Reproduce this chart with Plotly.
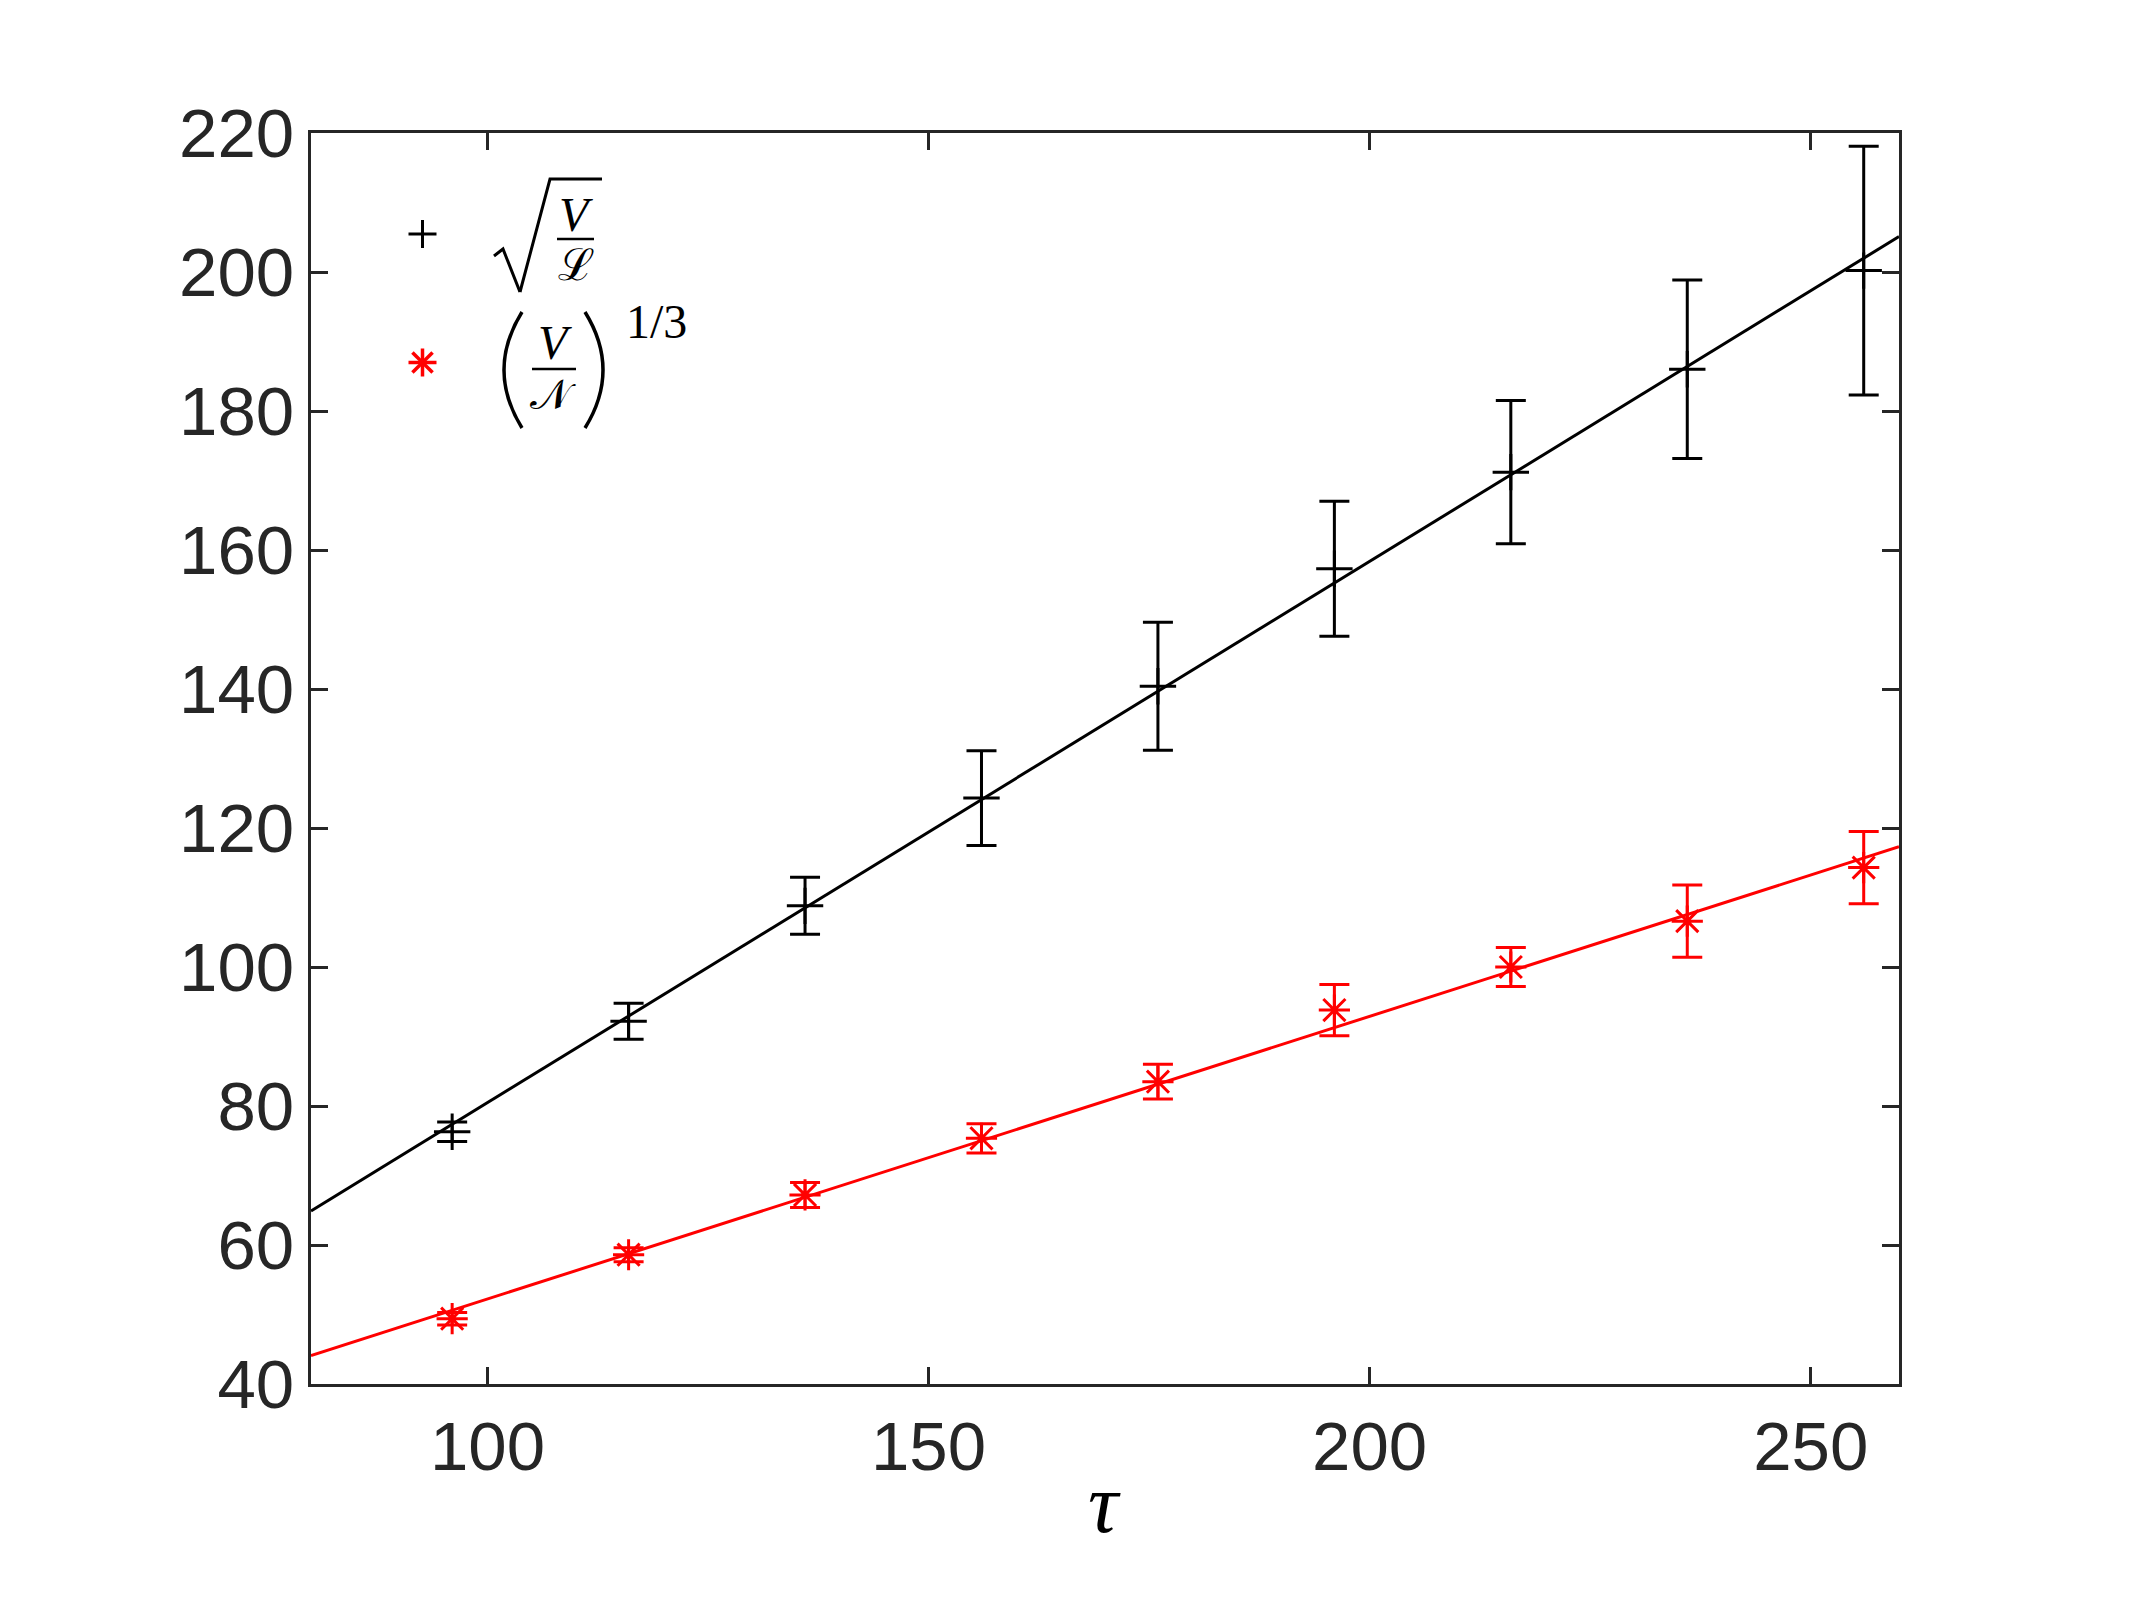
import plotly.graph_objects as go

# ---- data ----
tau = [96, 116, 136, 156, 176, 196, 216, 236, 256]
sqrt_VL = [76.3, 92.2, 108.8, 124.3, 140.4, 157.3, 171.2, 186.0, 200.2]
sqrt_VL_err = [1.4, 2.6, 4.1, 6.8, 9.2, 9.7, 10.3, 12.85, 17.9]
cbrt_VN = [49.4, 58.6, 67.2, 75.35, 83.5, 93.8, 100.0, 106.6, 114.3]
cbrt_VN_err = [0.9, 1.0, 1.8, 2.1, 2.5, 3.7, 2.8, 5.2, 5.2]
fit_x = [80, 260]
fit_black = [64.9, 205.1]
fit_red = [44.1, 117.3]

x_ticks = [100, 150, 200, 250]
y_ticks = [40, 60, 80, 100, 120, 140, 160, 180, 200, 220]

W, H = 2134, 1600
L, R, T, B = 311, 1899, 133, 1384
AX = "#262626"


def P(px, py):
    return (px - L) / (R - L), (B - py) / (B - T)


fig = go.Figure()
fig.add_trace(go.Scatter(x=fit_x, y=fit_black, mode="lines",
                         line=dict(color="black", width=3), showlegend=False))
fig.add_trace(go.Scatter(x=fit_x, y=fit_red, mode="lines",
                         line=dict(color="red", width=3), showlegend=False))
fig.add_trace(go.Scatter(
    x=tau, y=sqrt_VL, mode="markers", showlegend=False,
    marker=dict(symbol="cross-thin-open", size=26, color="black",
                line=dict(color="black", width=3)),
    error_y=dict(type="data", array=sqrt_VL_err, color="black",
                 thickness=3, width=15)))
fig.add_trace(go.Scatter(
    x=tau, y=cbrt_VN, mode="markers", showlegend=False,
    marker=dict(symbol="asterisk-open", size=26, color="red",
                line=dict(color="red", width=3)),
    error_y=dict(type="data", array=cbrt_VN_err, color="red",
                 thickness=3, width=15)))

axis_common = dict(showline=True, linecolor=AX, linewidth=3, mirror="ticks",
                   ticks="inside", ticklen=17, tickwidth=3, tickcolor=AX,
                   showgrid=False, zeroline=False,
                   tickfont=dict(family="Liberation Sans, Arial, sans-serif",
                                 size=69, color=AX))
fig.update_xaxes(range=[80, 260], tickvals=x_ticks, **axis_common)
fig.update_yaxes(range=[40, 220], tickvals=y_ticks, **axis_common)

# ---- legend (keys + math labels) ----
shapes = []
annotations = []
SER = "Liberation Serif, DejaVu Serif, serif"


def txt(px, py, s, size=46, family=SER, color="black"):
    x, y = P(px, py)
    annotations.append(dict(x=x, y=y, xref="paper", yref="paper", text=s,
                            showarrow=False, xanchor="center", yanchor="middle",
                            font=dict(family=family, size=size, color=color)))


def path(pts, width=3, color="black"):
    d = ""
    for i, (px, py) in enumerate(pts):
        x, y = P(px, py)
        d += ("M" if i == 0 else "L") + f"{x},{y} "
    shapes.append(dict(type="path", path=d, xref="paper", yref="paper",
                       line=dict(color=color, width=width)))


def curve(p0, c, p1, width=3.5):
    x0, y0 = P(*p0)
    xc, yc = P(*c)
    x1, y1 = P(*p1)
    shapes.append(dict(type="path", path=f"M{x0},{y0} Q{xc},{yc} {x1},{y1}",
                       xref="paper", yref="paper",
                       line=dict(color="black", width=width)))


# legend keys
kx, k1, k2, r = 422.5, 234, 362.5, 14
path([(kx - r, k1), (kx + r, k1)], width=3)
path([(kx, k1 - r), (kx, k1 + r)], width=3)
path([(kx - r, k2), (kx + r, k2)], width=3.5, color="red")
path([(kx, k2 - r), (kx, k2 + r)], width=3.5, color="red")
d = r * 0.72
path([(kx - d, k2 - d), (kx + d, k2 + d)], width=3.5, color="red")
path([(kx - d, k2 + d), (kx + d, k2 - d)], width=3.5, color="red")

# sqrt(V / L)
path([(494, 256), (503, 249), (520, 292)], width=3)
path([(520, 292), (550, 179), (602, 179)], width=3)
txt(576, 214, "<i>V</i>", size=48)
path([(557, 239), (594, 239)], width=2.5)
txt(576, 264, "ℒ", family="DejaVu Serif, serif", size=44)

# (V / N)^(1/3)
curve((522, 312), (486, 370), (522, 428))
curve((585, 312), (621, 370), (585, 428))
txt(555, 343, "<i>V</i>", size=48)
path([(532, 369), (576, 369)], width=2.5)
txt(553, 394, "𝒩", family="DejaVu Serif, serif", size=42)
txt(656, 321, "1/3", size=48)

# x-axis title
txt(1104, 1503, "<i>τ</i>", size=84, family="Liberation Serif, serif")

fig.update_layout(
    width=W, height=H,
    margin=dict(l=L, r=W - R, t=T, b=H - B),
    paper_bgcolor="white", plot_bgcolor="white",
    showlegend=False,
    shapes=shapes, annotations=annotations,
)
fig.write_html("out.html")
